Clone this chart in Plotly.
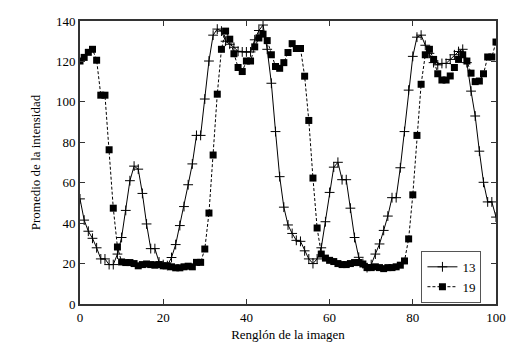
import plotly.graph_objects as go

x_rows = list(range(0, 101))

serie_13 = [52, 41.5, 36, 32.5, 27.8, 22.3, 22.3, 19.5, 19.5, 24.7,
            32.9, 46.3, 61, 68.2, 66.7, 54.7, 39.6, 27.4, 27.4, 20.8,
            19.5, 19, 23, 29.4, 38.8, 48.2, 59, 69.3, 83.4, 83.4,
            101.4, 120.2, 133, 136, 135, 130, 128.5, 127, 125, 124.7,
            124.7, 124.7, 130.7, 135.3, 138, 126, 109.2, 85.3, 63, 47.9,
            39.1, 34.9, 31.5, 31, 26.3, 22.3, 20, 22.3, 27.8, 40.7,
            55.2, 67.7, 70.1, 61.5, 61.5, 47.4, 32.9, 23.1, 20, 18,
            19.5, 24.7, 29.7, 36.4, 43.5, 52.6, 52.6, 67.4, 85.3, 105.8,
            122.5, 132, 133, 128, 124, 119.4, 118.3, 119, 119, 121,
            123.3, 124.9, 126, 119.4, 105.3, 93, 75.6, 60.2, 50.5, 50.5,
            43]

serie_19 = [120.2, 122, 124.5, 126, 120.6, 103.3, 103.3, 76.3, 47.4, 28.2,
            20.8, 20.5, 20.5, 20, 18.9, 19.5, 19.8, 19.5, 19.2, 19.5,
            18.9, 18.9, 18.4, 17.9, 17.9, 18.4, 18.7, 18.4, 20.6, 20.6,
            27.2, 45, 73.7, 103.8, 126, 135, 131, 123.8, 117, 115,
            120.2, 120.2, 127.2, 131.6, 133.5, 130.3, 123.3, 117.5, 116.6, 119.4,
            124.4, 128.8, 126.4, 126.4, 112.7, 90.8, 62.3, 37.6, 24.7, 22.7,
            21.6, 21, 20, 19.5, 19.5, 20, 20.5, 20.5, 19.8, 18,
            18, 18.4, 18, 17.5, 18, 18, 18.4, 19.2, 21.3, 32.2,
            54, 83.4, 108.7, 123.3, 126, 121, 113.9, 110.8, 110.8, 112.8,
            117, 121, 123.3, 120.2, 114.2, 110, 110.3, 113.9, 122.2, 122.2,
            129.6]

x_ticks = [0, 20, 40, 60, 80, 100]
y_ticks = [0, 20, 40, 60, 80, 100, 120, 140]

font_family = "Times New Roman, Liberation Serif, DejaVu Serif, serif"

fig = go.Figure()
fig.add_trace(go.Scatter(
    x=x_rows, y=serie_13, name="13", mode="lines+markers",
    line=dict(color="black", width=1),
    marker=dict(symbol="cross-thin", size=7, line=dict(color="black", width=1), color="black"),
))
fig.add_trace(go.Scatter(
    x=x_rows, y=serie_19, name="19", mode="lines+markers",
    line=dict(color="black", width=1, dash="3px,2px"),
    marker=dict(symbol="square", size=7, color="black"),
))

axis_common = dict(
    showline=True, linecolor="#333", linewidth=2, mirror="ticks",
    ticks="inside", ticklen=5, tickcolor="#333", tickwidth=1,
    showgrid=False, zeroline=False,
    tickfont=dict(family=font_family, size=13, color="black"),
)

fig.update_layout(
    width=513, height=346,
    margin=dict(l=72, r=25, t=6, b=50),
    paper_bgcolor="white", plot_bgcolor="white",
    font=dict(family=font_family, size=13, color="black"),
    xaxis=dict(range=[0, 100], tickvals=x_ticks,
               title=dict(text="Renglón de la imagen", font=dict(family=font_family, size=13), standoff=6),
               **axis_common),
    yaxis=dict(range=[0, 140], tickvals=y_ticks,
               title=dict(text="Promedio de la intensidad", font=dict(family=font_family, size=13), standoff=12),
               **axis_common),
    legend=dict(x=0.965, xanchor="right", y=0.004, yanchor="bottom",
                bordercolor="#555", borderwidth=1, bgcolor="white",
                font=dict(family=font_family, size=13),
                tracegroupgap=0, itemwidth=30),
    showlegend=True,
)

fig.write_html("out.html")
